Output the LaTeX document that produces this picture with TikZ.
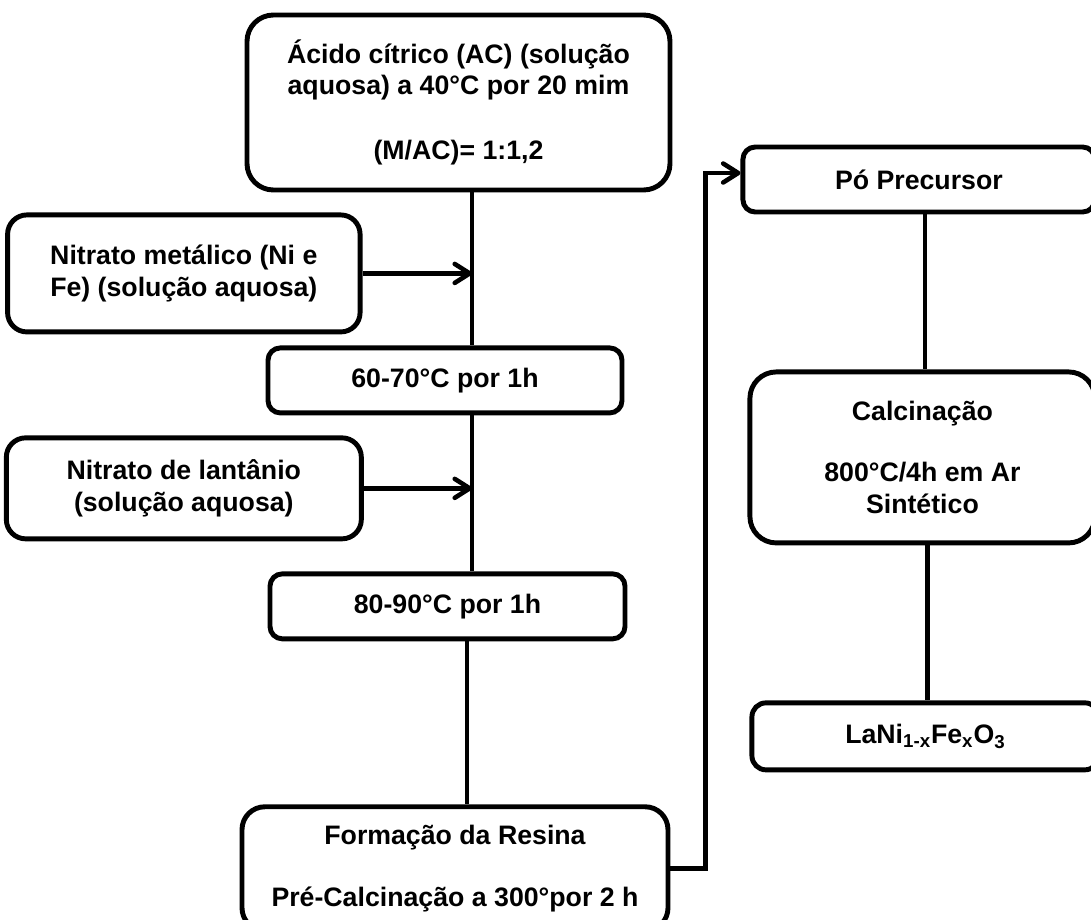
\documentclass[tikz,border=0pt]{standalone}
\usepackage{fontspec}
\setmainfont{Liberation Sans}
\usepackage{tikz}
\usetikzlibrary{arrows.meta, positioning}

\begin{document}
\begin{tikzpicture}[
    block/.style={rectangle, draw, line width=2.8pt, rounded corners=15pt, align=center, inner sep=0pt, font=\fontsize{15.2}{18}\selectfont\bfseries},
    smallblock/.style={block, rounded corners=7pt, minimum height=1.3cm},
    link/.style={line width=2.6pt},
    arrow/.style={link, -{Straight Barb[length=3mm, width=3.8mm, round]}}
]

% Fixed page size
\useasboundingbox (0,0) rectangle (21.82,-18.38);

% Left column
\node[block, minimum width=8.46cm, minimum height=3.5cm] (acido) at (9.17,-2.05)
    {Ácido cítrico (AC) (solução\\aquosa) a 40°C por 20 mim\\[19pt](M/AC)= 1:1,2};

\node[block, rounded corners=11pt, minimum width=7.05cm, minimum height=2.34cm, anchor=north east] (metalico)
    at ([shift={(2.36,-0.4)}]acido.south west) {Nitrato metálico (Ni e\\Fe) (solução aquosa)};

\node[smallblock, minimum width=7.08cm, below=3.06cm of acido, xshift=-0.27cm] (s6070) {60-70°C por 1h};

\node[block, rounded corners=11pt, minimum width=7.1cm, minimum height=2.02cm, below=2.02cm of metalico] (lantanio)
    {Nitrato de lantânio\\(solução aquosa)};

\node[smallblock, minimum width=7.1cm, below=3.12cm of s6070, xshift=0.05cm] (s8090) {80-90°C por 1h};

\node[block, rounded corners=13pt, minimum width=8.52cm, minimum height=2.48cm, below=3.26cm of s8090, xshift=0.15cm] (resina)
    {Formação da Resina\\[17pt]Pré-Calcinação a 300°por 2 h};

% Right column
\node[smallblock, minimum width=7.04cm, anchor=north west] (po)
    at ([shift={(1.36,-2.64)}]acido.north east) {Pó Precursor};

\node[block, minimum width=6.9cm, minimum height=3.42cm, below=3.1cm of po, xshift=0.07cm] (calc)
    {Calcinação\\[17pt]800°C/4h em Ar\\Sintético};

\node[smallblock, rounded corners=8pt, minimum width=6.94cm, minimum height=1.34cm, below=3.1cm of calc, xshift=0.06cm] (lani)
    {LaNi\textsubscript{1-x}Fe\textsubscript{x}O\textsubscript{3}};

% Connectors
\coordinate (trunk) at ([xshift=0.27cm]acido.south);
\draw[link] (trunk) -- (trunk |- s6070.north);
\draw[link] (trunk |- s6070.south) -- (trunk |- s8090.north);
\draw[arrow] (metalico.east) -- (metalico.east -| trunk);
\draw[arrow] (lantanio.east) -- (lantanio.east -| trunk);
\draw[link] ([xshift=0.39cm]s8090.south) -- ([xshift=0.39cm]s8090.south |- resina.north);
\draw[arrow] (resina.east) -- ++(0.7,0) |- ([yshift=0.13cm]po.west);
\draw[link] ([xshift=0.12cm]po.south) -- ([xshift=0.12cm]po.south |- calc.north);
\draw[link] ([xshift=0.1cm]calc.south) -- ([xshift=0.1cm]calc.south |- lani.north);

\end{tikzpicture}
\end{document}
